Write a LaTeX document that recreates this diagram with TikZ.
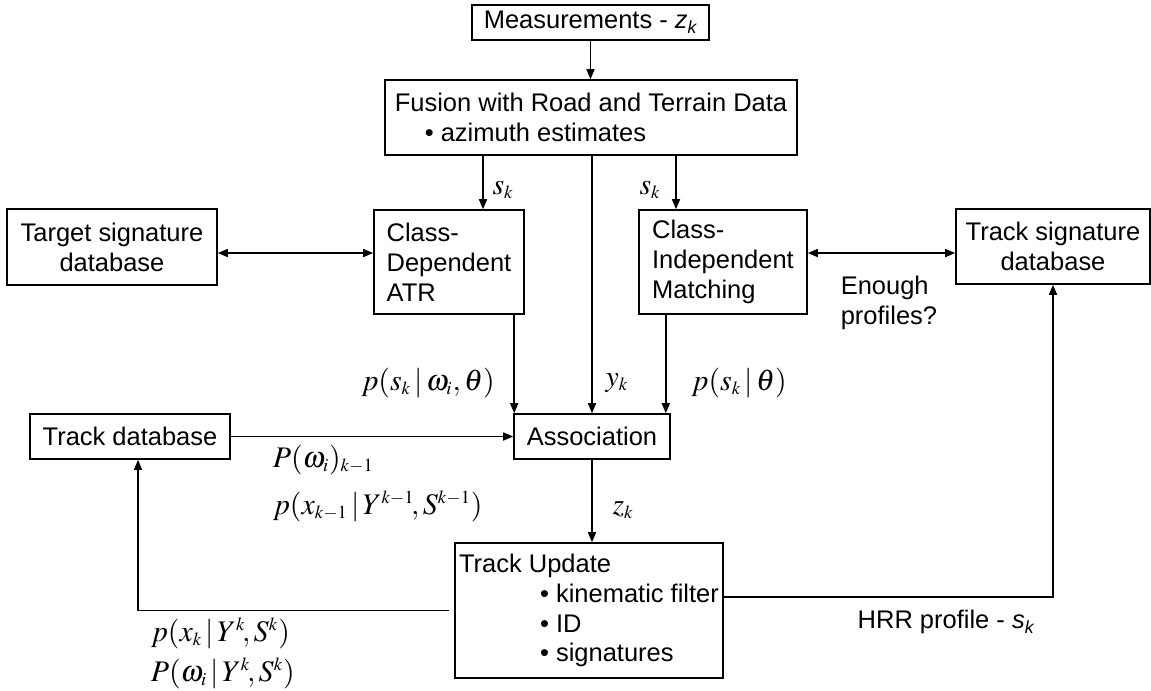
\documentclass[tikz,border=0pt]{standalone}
\usepackage{mathptmx}
\usepackage[no-math]{fontspec}
\setmainfont{Liberation Sans}
\usetikzlibrary{arrows.meta}
\DeclareMathSizes{17}{17}{10.5}{8}
\newcommand{\subsans}[2]{\textit{#1}\raisebox{-0.35ex}{\fontsize{10}{10}\selectfont\textit{#2}}}

\begin{document}
\begin{tikzpicture}[line width=0.9pt,
  every node/.style={font=\fontsize{14.5}{17}\selectfont},
  caja/.style={rectangle, draw, inner sep=0pt},
  etiq/.style={font=\fontsize{17}{20}\selectfont, inner sep=0pt},
  >={Triangle[length=0.2cm,width=0.16cm]}]

\useasboundingbox (0,0) rectangle (23.02,-13.82);

%% BLOQUES SUPERIORES
% Medidas
\node[caja, minimum height=0.7cm, minimum width=4.74cm] at (11.81,-0.45) (Meas)
{Measurements - \subsans{z}{k}};

% Fusion
\node[caja, align=left, minimum height=1.5cm, minimum width=8.24cm] at (11.82,-2.35) (Fusion)
{Fusion with Road and Terrain Data\\\hspace*{0.6cm}• azimuth estimates};

% Clasificadores
\node[caja, align=left, minimum height=2.08cm, minimum width=3cm] at (8.98,-5.24) (ATR)
{Class-\\Dependent\\ATR};
\node[caja, align=left, minimum height=2.08cm, minimum width=3.36cm] at (14.46,-5.24) (Match)
{Class-\\Independent\\Matching};

% Bases de firmas
\node[caja, align=center, minimum height=1.52cm, minimum width=4.2cm] at (2.24,-4.94) (TgtDB)
{Target signature\\database};
\node[caja, align=center, minimum height=1.5cm, minimum width=3.88cm] at (21.06,-4.93) (TrkSig)
{Track signature\\database};

%% BLOQUES INFERIORES
\node[caja, minimum height=0.9cm, minimum width=3.12cm] at (11.84,-8.73) (Assoc) {Association};
\node[caja, minimum height=0.9cm, minimum width=4cm] at (2.6,-8.73) (TrkDB) {Track database};
\node[caja, align=left, minimum height=2.7cm, minimum width=5.36cm] at (11.78,-12.21) (Update)
{Track Update\\\hspace*{1.62cm}• kinematic filter\\\hspace*{1.62cm}• ID\\\hspace*{1.62cm}• signatures};

% Puntos auxiliares
\coordinate (s1) at ([xshift=0.68cm]ATR.north);
\coordinate (s2) at ([xshift=-0.94cm]Match.north);
\coordinate (a1) at ([xshift=0.02cm]Assoc.north west);
\coordinate (a2) at ([xshift=-0.1cm]Assoc.north east);
\coordinate (d1) at ([yshift=-0.12cm]TgtDB.east);
\coordinate (d2) at ([yshift=-0.13cm]TrkSig.west);

% Flechas
\draw[->] (Meas.south) -- (Meas.south |- Fusion.north);
\draw[->] (s1 |- Fusion.south) -- (s1);
\draw[->] (s2 |- Fusion.south) -- (s2);
\draw[->] (Assoc.north |- Fusion.south) -- (Assoc.north);
\draw[<->] (d1) -- (d1 -| ATR.west);
\draw[<->] (d2 -| Match.east) -- (d2);
\draw[->] (a1 |- ATR.south) -- (a1);
\draw[->] (a2 |- Match.south) -- (a2);
\draw[->] (TrkDB.east) -- (Assoc.west);
\draw[->] (Assoc.south) -- (Assoc.south |- Update.north);
\draw[->] ([xshift=-0.1cm]Update.west) -| ([xshift=0.16cm]TrkDB.south);
\draw[->] ([yshift=0.27cm]Update.east) -| (TrkSig.south);

% Etiquetas
\node[etiq] at (10.06,-3.8) (lab1) {$s_k$};
\node[etiq] at (13.0,-3.8) (lab2) {$s_k$};
\node[etiq] at (8.56,-7.66) (lab3) {$p(s_k\,|\,\omega_i,\theta)$};
\node[etiq] at (12.34,-7.66) (lab4) {$y_k$};
\node[etiq] at (14.78,-7.66) (lab5) {$p(s_k\,|\,\theta)$};
\node[etiq, anchor=west] at (5.44,-9.2) (lab6) {$P(\omega_i)_{k{-}1}$};
\node[etiq, anchor=west] at (5.44,-10.12) (lab7) {$p(x_{k{-}1}\,|\,Y^{k{-}1}\!,S^{k{-}1})$};
\node[etiq] at (12.46,-10.2) (lab8) {$z_k$};
\node[etiq, anchor=west] at (3.0,-12.66) (lab9) {$p(x_k\,|\,Y^k\!,S^k)$};
\node[etiq, anchor=west] at (3.0,-13.46) (lab10) {$P(\omega_i\,|\,Y^k\!,S^k)$};
\node[anchor=west, align=left, inner sep=0pt] at (16.8,-6.05) (lab11) {Enough\\profiles?};
\node[inner sep=0pt] at (18.92,-12.44) (lab12) {HRR profile - \subsans{s}{k}};

\end{tikzpicture}
\end{document}
